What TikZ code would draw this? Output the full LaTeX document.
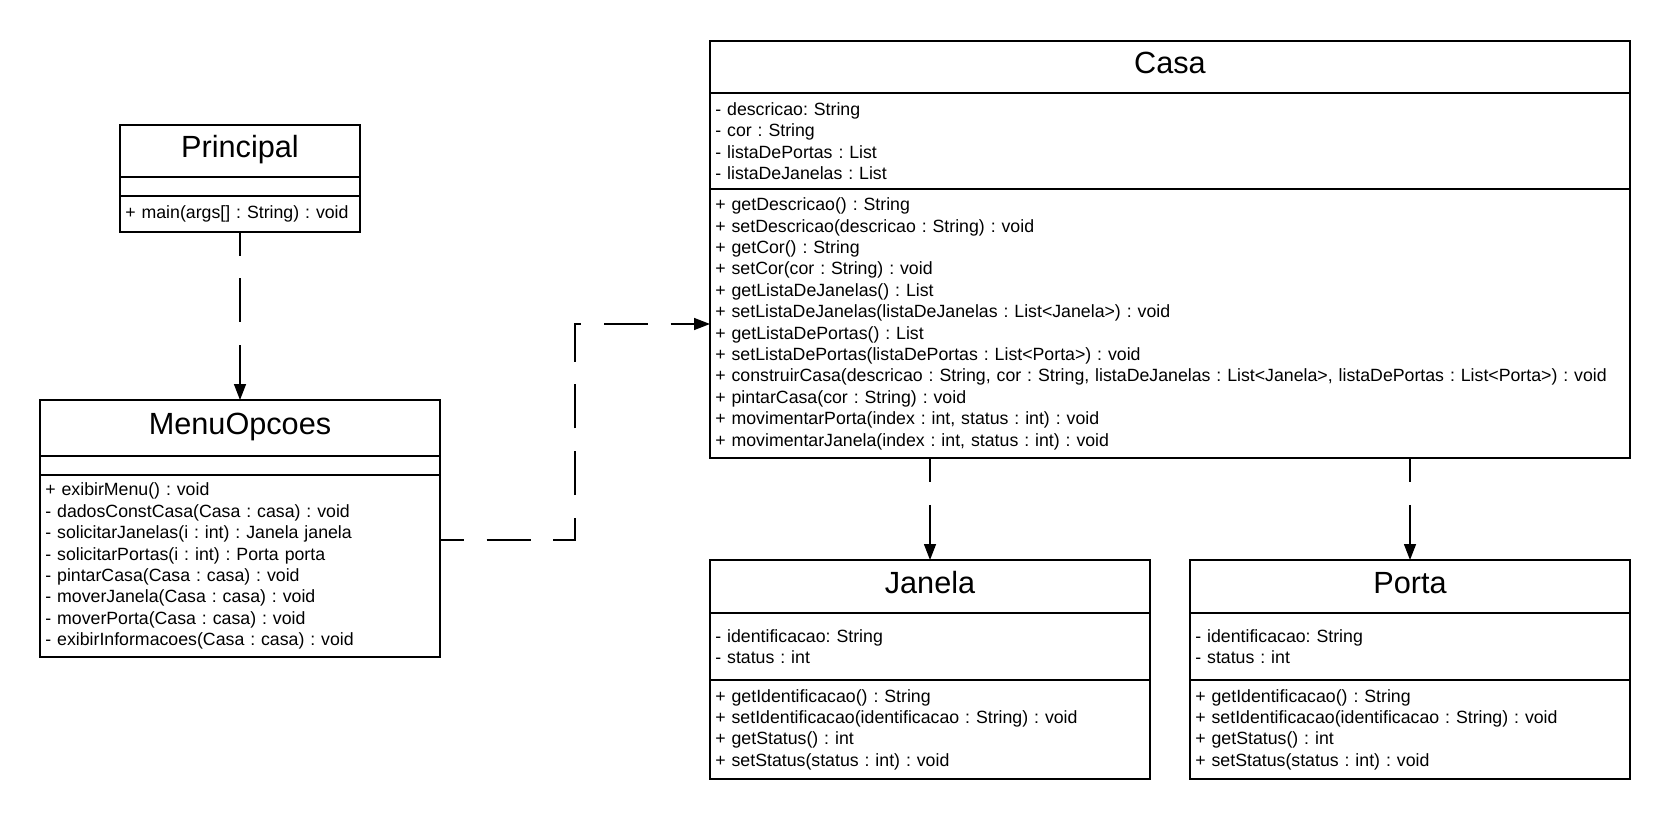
\documentclass[tikz,border=0pt]{standalone}
\usepackage{fontspec}
\setmainfont{Liberation Sans}
\usetikzlibrary{arrows.meta, positioning, calc}
\frenchspacing

\newcommand{\titlesize}{\fontsize{23pt}{27pt}\selectfont}
\newcommand{\membersize}{\fontsize{13.3pt}{16.05pt}\selectfont\frenchspacing}

\begin{document}
\begin{tikzpicture}[
        x=1pt, y=1pt,
        classhead/.style 2 args = {rectangle, draw=black, line width=1.5pt,
                      outer sep=0pt, inner sep=0pt, minimum width=#1,
                      minimum height=#2, text height=15pt, text depth=4.6pt,
                      font=\titlesize},
        classempty/.style 2 args = {rectangle, draw=black, line width=1.5pt,
                      outer sep=0pt, inner sep=0pt, minimum width=#1,
                      minimum height=#2},
        classpart/.style 2 args = {rectangle, draw=black, line width=1.5pt,
                      outer sep=0pt, inner xsep=4pt, inner ysep=0pt,
                      text width=#1, minimum height=#2, align=left,
                      font=\membersize},
        dep/.style = {-{Triangle[length=12pt, width=9pt]}, line width=1.1pt,
                      dash pattern=on 33pt off 17pt, dash phase=15pt}
    ]
    \useasboundingbox (0,0) rectangle (1252.5,-615);

    % --- Principal ---
    \node[classhead={180pt}{38.8pt}, anchor=north west] (principal) at (90,-93.75) {Principal};
    \node[classempty={180pt}{14.5pt}, below=0pt of principal] (principalAttr) {};
    \node[classpart={172pt}{26.8pt}, below=0pt of principalAttr] (principalOps)
        {+ main(args[] : String) : void};

    % --- MenuOpcoes ---
    \node[classhead={300pt}{42pt}, anchor=north west] (menu) at (30,-300) {MenuOpcoes};
    \node[classempty={300pt}{14.25pt}, below=0pt of menu] (menuAttr) {};
    \node[classpart={292pt}{136.7pt}, below=0pt of menuAttr] (menuOps)
        {+ exibirMenu() : void\\
         - dadosConstCasa(Casa : casa) : void\\
         - solicitarJanelas(i : int) : Janela janela\\
         - solicitarPortas(i : int) : Porta porta\\
         - pintarCasa(Casa : casa) : void\\
         - moverJanela(Casa : casa) : void\\
         - moverPorta(Casa : casa) : void\\
         - exibirInformacoes(Casa : casa) : void};

    % --- Casa ---
    \node[classhead={690pt}{39.5pt}, anchor=north west] (casa) at (532.5,-30.5) {Casa};
    \node[classpart={682pt}{72pt}, below=0pt of casa] (casaAttr)
        {- descricao: String\\
         - cor : String\\
         - listaDePortas : List\\
         - listaDeJanelas : List};
    \node[classpart={682pt}{201.7pt}, below=0pt of casaAttr] (casaOps)
        {+ getDescricao() : String\\
         + setDescricao(descricao : String) : void\\
         + getCor() : String\\
         + setCor(cor : String) : void\\
         + getListaDeJanelas() : List\\
         + setListaDeJanelas(listaDeJanelas : List<Janela>) : void\\
         + getListaDePortas() : List\\
         + setListaDePortas(listaDePortas : List<Porta>) : void\\
         + construirCasa(descricao : String, cor : String, listaDeJanelas : List<Janela>, listaDePortas : List<Porta>) : void\\
         + pintarCasa(cor : String) : void\\
         + movimentarPorta(index : int, status : int) : void\\
         + movimentarJanela(index : int, status : int) : void};

    % --- Janela ---
    \node[classhead={330pt}{40pt}, anchor=north west] (janela) at (532.5,-420) {Janela};
    \node[classpart={322pt}{50pt}, below=0pt of janela] (janelaAttr)
        {- identificacao: String\\
         - status : int};
    \node[classpart={322pt}{74.5pt}, below=0pt of janelaAttr] (janelaOps)
        {+ getIdentificacao() : String\\
         + setIdentificacao(identificacao : String) : void\\
         + getStatus() : int\\
         + setStatus(status : int) : void};

    % --- Porta ---
    \node[classhead={330pt}{40pt}, anchor=north west] (porta) at (892.5,-420) {Porta};
    \node[classpart={322pt}{50pt}, below=0pt of porta] (portaAttr)
        {- identificacao: String\\
         - status : int};
    \node[classpart={322pt}{74.5pt}, below=0pt of portaAttr] (portaOps)
        {+ getIdentificacao() : String\\
         + setIdentificacao(identificacao : String) : void\\
         + getStatus() : int\\
         + setStatus(status : int) : void};

    % --- Dependencies ---
    \coordinate (menuBend) at (431.25,-243);
    \draw[dep] (principalOps.south) -- (menu.north);
    \draw[dep] ($(menuOps.north east)+(0,-48.75)$) -| (menuBend) -- (menuBend -| casaOps.west);
    \draw[dep] (casaOps.south -| janela.north) -- (janela.north);
    \draw[dep] (casaOps.south -| porta.north) -- (porta.north);

\end{tikzpicture}
\end{document}
